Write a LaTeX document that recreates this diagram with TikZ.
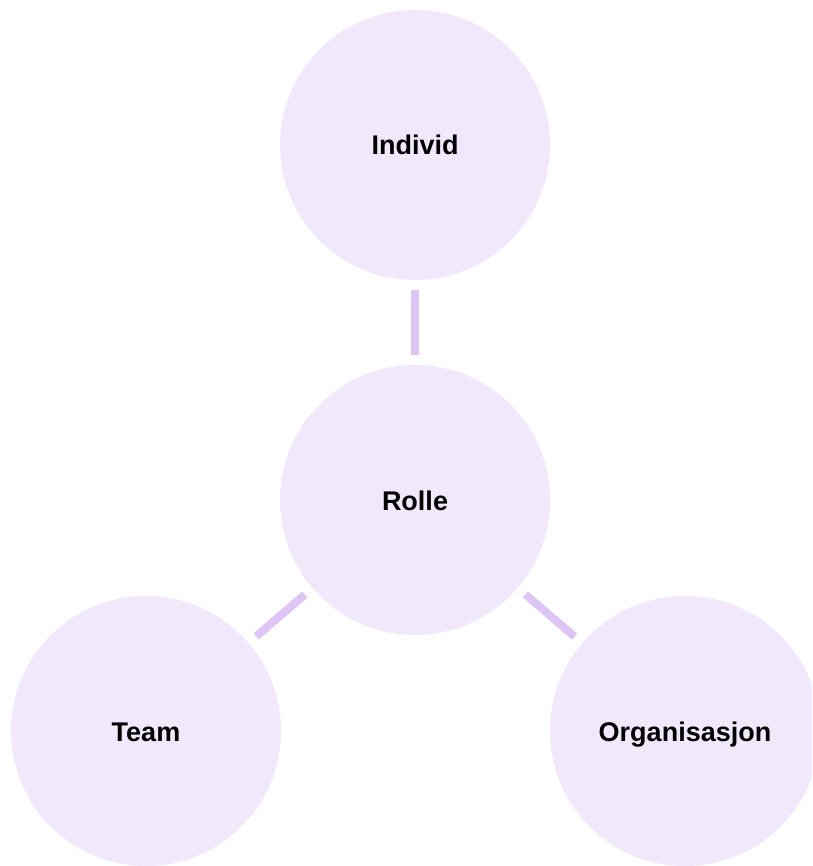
\documentclass[tikz,border=0pt]{standalone}
\usepackage{fontspec}
\setmainfont{Liberation Sans}
\definecolor{circfill}{HTML}{F1E8FC}
\definecolor{linkcol}{HTML}{DDC5F6}
\begin{document}
\begin{tikzpicture}[x=1pt,y=-1pt,
  bubble/.style={circle,fill=circfill,minimum size=270pt,inner sep=0pt,text height=20pt,text depth=0pt,font=\fontsize{27}{32}\selectfont\bfseries},
  link/.style={draw=linkcol,line width=8pt,shorten >=10pt,shorten <=10pt}]
\clip (0,0) rectangle (812,866);
\fill[white] (0,0) rectangle (812,866);
\node[bubble] (individ) at (415,145) {Individ};
\node[bubble] (rolle) at (415,500) {Rolle};
\node[bubble] (team) at (146,731) {Team};
\node[bubble] (org) at (685,731) {Organisasjon};
\draw[link] (individ) -- (rolle);
\draw[link] (rolle) -- (team);
\draw[link] (rolle) -- (org);
\end{tikzpicture}
\end{document}
